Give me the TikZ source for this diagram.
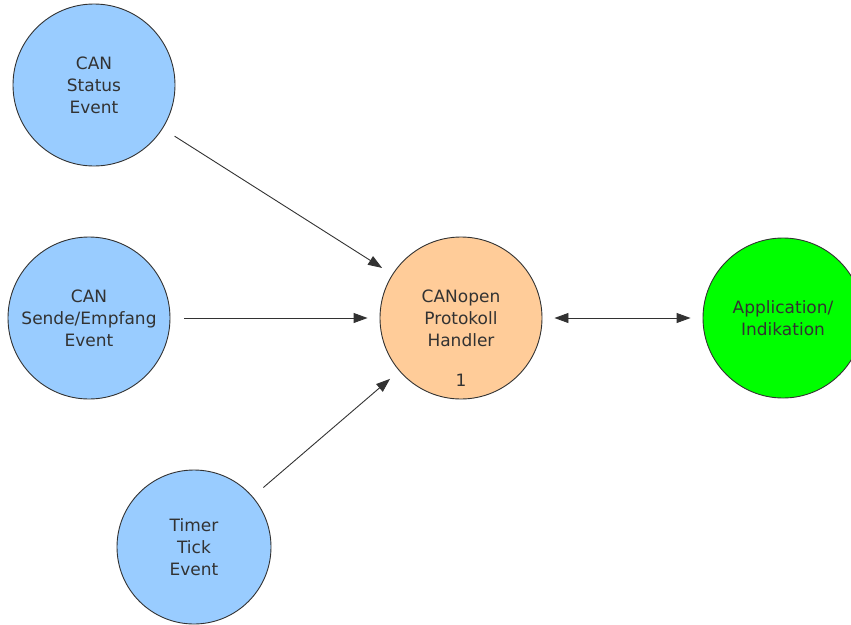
\documentclass[tikz,border=0pt]{standalone}
\usepackage{fontspec}
\setmainfont{DejaVu Sans}
\usetikzlibrary{arrows.meta}
\definecolor{evblue}{RGB}{153,204,255}
\definecolor{hdorange}{RGB}{255,204,153}
\definecolor{appgreen}{RGB}{0,255,0}
\definecolor{ink}{RGB}{50,50,50}
\tikzset{
  state/.style={circle, draw=ink, line width=0.9pt, inner sep=0pt,
    text=ink, align=center,
    font=\fontsize{17}{22}\selectfont},
  event/.style={state, fill=evblue, minimum size=162pt},
  handler/.style={state, fill=hdorange, minimum size=162pt},
  app/.style={state, fill=appgreen, minimum size=160pt},
  flow/.style={draw=ink, line width=0.9pt,
    -{Triangle[length=14pt,width=10pt]}, shorten >=12pt, shorten <=14pt},
  biflow/.style={flow, {Triangle[length=14pt,width=10pt]}-{Triangle[length=14pt,width=10pt]},
    shorten <=12pt}
}
\begin{document}
\begin{tikzpicture}[x=1pt,y=-1pt]
  \useasboundingbox (0,0) rectangle (851,624);

  % event sources
  \node[event] (status) at (94,85) {CAN\\Status\\Event};
  \node[event] (sende) at (89,318) {CAN\\Sende/Empfang\\Event};
  \node[event, minimum size=154pt] (timer) at (194,547) {Timer\\Tick\\Event};

  % protocol handler
  \node[handler] (handler) at (461,318) {CANopen\\Protokoll\\Handler};
  \node[text=ink, font=\fontsize{17}{22}\selectfont] (handlernum) at (461,380) {1};

  % application side
  \node[app] (app) at (783,318) {Application/\\Indikation};

  % connections
  \draw[flow] (status) -- (handler);
  \draw[flow] (sende) -- (handler);
  \draw[flow] (timer) -- (handler);
  \draw[biflow] (handler) -- (app);
\end{tikzpicture}
\end{document}
